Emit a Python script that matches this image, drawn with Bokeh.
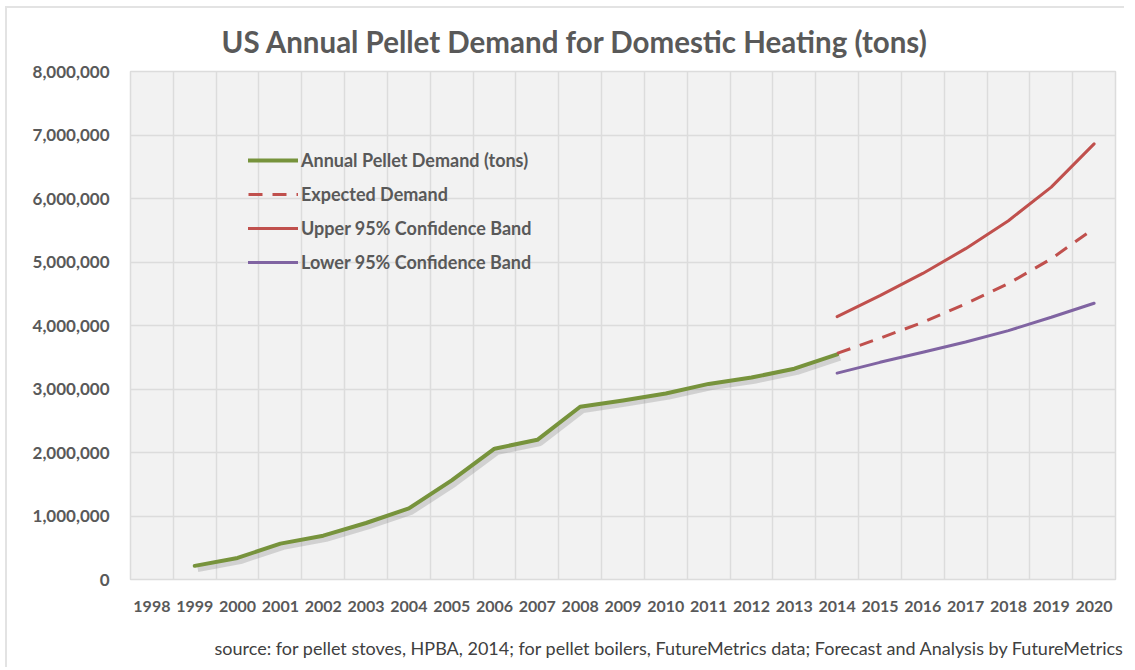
from bokeh.plotting import figure
from bokeh.models import (ColumnDataSource, FixedTicker, NumeralTickFormatter, Legend,
                          LegendItem, Title, Range1d, LinearAxis)
from bokeh.transform import dodge
from bokeh.embed import file_html
from bokeh.resources import INLINE

# ---- data ----
year_labels = [str(y) for y in range(1998, 2021)]
hist_years = [1999, 2000, 2001, 2002, 2003, 2004, 2005, 2006, 2007, 2008, 2009, 2010, 2011, 2012, 2013, 2014]
hist_demand = [215000, 340000, 565000, 690000, 890000, 1120000, 1560000, 2060000, 2200000,
               2720000, 2820000, 2930000, 3080000, 3180000, 3320000, 3545000]
fc_years = [2014, 2015, 2016, 2017, 2018, 2019, 2020]
expected = [3560000, 3800000, 4050000, 4340000, 4660000, 5050000, 5530000]
upper = [4140000, 4470000, 4820000, 5210000, 5650000, 6180000, 6860000]
lower = [3250000, 3420000, 3580000, 3740000, 3920000, 4130000, 4350000]
y_ticks = [0, 1000000, 2000000, 3000000, 4000000, 5000000, 6000000, 7000000, 8000000]

title_text = "US Annual Pellet Demand for Domestic Heating (tons)"
source_text = ("source: for pellet stoves, HPBA, 2014; for pellet boilers, FutureMetrics data; "
               "Forecast and Analysis by FutureMetrics")
legend_labels = ["Annual Pellet Demand (tons)", "Expected Demand",
                 "Upper 95% Confidence Band", "Lower 95% Confidence Band"]

GREEN = "#77933c"
RED = "#c0504d"
PURPLE = "#8064a2"
GRAY_TXT = "#595959"
FONT = "Lato"

x_numbers = [int(s) for s in year_labels]

p = figure(width=1119, height=661, output_backend="svg", toolbar_location=None,
           x_range=Range1d(x_numbers[0] - 0.5, x_numbers[-1] + 0.5),
           y_range=Range1d(y_ticks[0], y_ticks[-1]),
           min_border_left=123, min_border_top=63, min_border_right=11, min_border_bottom=90)
p.styles = {"margin-left": "7px", "margin-top": "8px",
            "box-shadow": "-2px -2px 0 0 #e3e3e3"}

p.background_fill_color = "#f2f2f2"
p.border_fill_color = "white"
p.outline_line_color = "#dcdcdc"
p.outline_line_width = 1.5

# axes
p.xaxis.ticker = FixedTicker(ticks=x_numbers)
p.xaxis.major_label_overrides = {n: s for n, s in zip(x_numbers, year_labels)}
p.yaxis.ticker = FixedTicker(ticks=y_ticks)
p.yaxis.formatter = NumeralTickFormatter(format="0,0")
for ax in (p.xaxis, p.yaxis):
    ax.axis_line_color = None
    ax.major_tick_line_color = None
    ax.minor_tick_line_color = None
    ax.major_label_text_font = FONT
    ax.major_label_text_font_style = "bold"
    ax.major_label_text_color = GRAY_TXT
p.xaxis.major_label_text_font_size = "16px"
p.yaxis.major_label_text_font_size = "17px"
p.yaxis.major_label_standoff = 15
p.xaxis.major_label_standoff = 15

# footer (source note) as a label-only axis below the year axis
FOOT_POS = 551  # position of the note's centre on a 0..1000 helper scale
p.extra_x_ranges = {"foot": Range1d(0, 1000)}
foot_axis = LinearAxis(x_range_name="foot", ticker=FixedTicker(ticks=[FOOT_POS]),
                       major_label_overrides={FOOT_POS: source_text})
foot_axis.axis_line_color = None
foot_axis.major_tick_line_color = None
foot_axis.minor_tick_line_color = None
foot_axis.major_label_text_font = FONT
foot_axis.major_label_text_font_size = "18px"
foot_axis.major_label_text_color = "#404040"
foot_axis.major_label_standoff = 16
p.add_layout(foot_axis, "below")

# grids
p.xgrid.ticker = FixedTicker(ticks=[n - 0.5 for n in x_numbers] + [x_numbers[-1] + 0.5])
p.ygrid.ticker = FixedTicker(ticks=y_ticks)
for g in (p.xgrid, p.ygrid):
    g.grid_line_color = "#dcdcdc"
    g.grid_line_width = 1.5

hist_src = ColumnDataSource(dict(x=hist_years, y=hist_demand))
fc_src = ColumnDataSource(dict(x=fc_years, e=expected, u=upper, l=lower))

# soft shadow under the historical line
p.line(x=dodge("x", 0.07, range=p.x_range), y=dodge("y", -50000, range=p.y_range),
       source=hist_src, line_color="#7f7f7f", line_alpha=0.28, line_width=6, line_join="round")
r_hist = p.line("x", "y", source=hist_src, line_color=GREEN, line_width=4, line_join="round",
                line_cap="round")
r_exp = p.line("x", "e", source=fc_src, line_color=RED, line_width=3, line_dash="14 10")
r_up = p.line("x", "u", source=fc_src, line_color=RED, line_width=3, line_cap="round")
r_low = p.line("x", "l", source=fc_src, line_color=PURPLE, line_width=3, line_cap="round")

legend = Legend(items=[LegendItem(label=legend_labels[0], renderers=[r_hist]),
                       LegendItem(label=legend_labels[1], renderers=[r_exp]),
                       LegendItem(label=legend_labels[2], renderers=[r_up]),
                       LegendItem(label=legend_labels[3], renderers=[r_low])],
                location=(118, 306))
legend.background_fill_alpha = 0
legend.border_line_color = None
legend.padding = 0
legend.margin = 0
legend.spacing = 12
legend.glyph_width = 50
legend.glyph_height = 20
legend.label_height = 20
legend.label_standoff = 3
legend.label_text_font = FONT
legend.label_text_font_size = "18px"
legend.label_text_font_style = "bold"
legend.label_text_color = GRAY_TXT
p.add_layout(legend, "center")

title = Title(text=title_text, align="left", offset=91, standoff=26,
              text_font=FONT, text_font_style="bold", text_font_size="29.5px",
              text_color=GRAY_TXT)
p.add_layout(title, "above")

open("out.html", "w").write(file_html(p, INLINE))
